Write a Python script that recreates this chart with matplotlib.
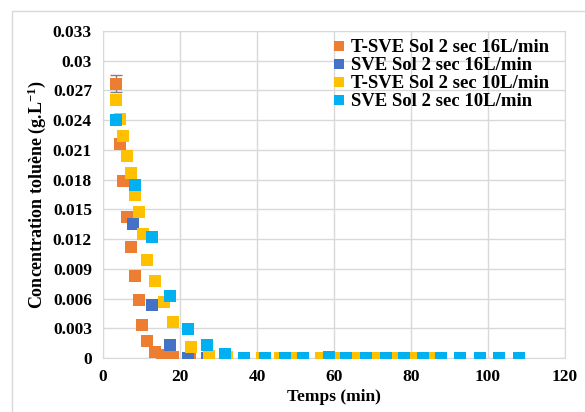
import matplotlib.pyplot as plt
from matplotlib.patches import Rectangle

plt.rcParams['font.family'] = 'Liberation Serif'
plt.rcParams['font.weight'] = 'bold'
plt.rcParams['mathtext.fontset'] = 'custom'
plt.rcParams['mathtext.rm'] = 'Liberation Serif:bold'
plt.rcParams['mathtext.bf'] = 'Liberation Serif:bold'
plt.rcParams['mathtext.default'] = 'bf'

# T-SVE Sol 2 sec 16L/min
t_tsve16 = [3.4, 4.3, 5.3, 6.2, 7.2, 8.3, 9.3, 10.2, 11.4, 13.4, 15.3, 18.3, 22.7, 27.2, 32.0, 36.6, 41.5]
c_tsve16 = [0.0277, 0.0216, 0.0179, 0.0142, 0.0112, 0.0083, 0.0059, 0.0033, 0.0017, 0.0006, 0.0003, 0.0001,
            0.0, 0.0, 0.0, 0.0, 0.0]
err_first = 0.0009

# SVE Sol 2 sec 16L/min
t_sve16 = [3.3, 7.9, 12.7, 17.4, 22.2, 27.0, 31.8, 36.6, 41.5, 58.7]
c_sve16 = [0.0240, 0.0135, 0.0053, 0.0013, 0.0, 0.0, 0.0, 0.0, 0.0, 0.0]

# T-SVE Sol 2 sec 10L/min
t_tsve10 = [3.3, 4.4, 5.3, 6.3, 7.3, 8.3, 9.4, 10.3, 11.4, 13.4, 15.9, 18.3, 22.9, 27.6, 32.2, 41.3, 46.0,
            50.0, 56.5, 61.3, 65.6, 70.8, 75.6, 80.4, 84.7]
c_tsve10 = [0.0260, 0.0241, 0.0224, 0.0204, 0.0187, 0.0165, 0.0147, 0.0125, 0.0099, 0.0078, 0.0057, 0.0036,
            0.0011, 0.0002, 0.0001, 0.0, 0.0, 0.0, 0.0, 0.0, 0.0, 0.0, 0.0, 0.0, 0.0]

# SVE Sol 2 sec 10L/min
t_sve10 = [3.3, 8.2, 12.7, 17.4, 22.2, 27.0, 31.8, 36.5, 42.2, 47.4, 52.0, 58.7, 63.0, 68.2, 73.4, 78.2,
           83.0, 87.8, 92.7, 97.9, 102.9, 108.0]
c_sve10 = [0.0240, 0.0175, 0.0122, 0.0063, 0.0029, 0.0013, 0.0004, 0.0, 0.0, 0.0, 0.0, 0.00013, 0.0, 0.0,
           0.0, 0.0, 0.0, 0.0, 0.0, 0.0, 0.0, 0.0]

yticks = [0, 0.003, 0.006, 0.009, 0.012, 0.015, 0.018, 0.021, 0.024, 0.027, 0.03, 0.033]
ytick_labels = ['0', '0.003', '0.006', '0.009', '0.012', '0.015', '0.018', '0.021', '0.024', '0.027', '0.03', '0.033']

fig = plt.figure(figsize=(5.85, 4.12), dpi=100)
fig.patches.append(Rectangle((12 / 585, -0.1), 1.2, 1.0 - 11 / 412 + 0.1, transform=fig.transFigure,
                             fill=False, edgecolor='#d9d9d9', linewidth=1))
ax = fig.add_axes([103 / 585, 54 / 412, 462 / 585, 327 / 412])

ax.errorbar([t_tsve16[0]], [c_tsve16[0]], yerr=err_first, fmt='none', ecolor='#808080',
            elinewidth=1, capsize=4, zorder=2)
ms = 8.5
ax.plot(t_tsve16, c_tsve16, 's', color='#ED7D31', ms=ms, mew=0, label='T-SVE Sol 2 sec 16L/min', zorder=3)
ax.plot(t_sve16, c_sve16, 's', color='#4472C4', ms=ms, mew=0, label='SVE Sol 2 sec 16L/min', zorder=3)
ax.plot(t_tsve10, c_tsve10, 's', color='#FFC000', ms=ms, mew=0, label='T-SVE Sol 2 sec 10L/min', zorder=3)
ax.plot(t_sve10, c_sve10, 's', color='#00B0F0', ms=ms, mew=0, label='SVE Sol 2 sec 10L/min', zorder=3)

ax.set_xlim(0, 120)
ax.set_ylim(0, 0.033)
ax.set_xticks(range(0, 121, 20))
ax.set_yticks(yticks)
ax.set_yticklabels(ytick_labels)
ax.tick_params(length=0, labelsize=12.5, pad=8)
ax.grid(True, color='#d9d9d9', linewidth=1)
ax.set_axisbelow(True)
for s in ax.spines.values():
    s.set_color('#d9d9d9')

ax.set_xlabel('Temps (min)', fontsize=12.5, fontweight='bold', labelpad=3)
ax.set_ylabel('Concentration toluène (g.L$^{-1}$)', fontsize=13, fontweight='bold', labelpad=3)

leg = ax.legend(loc='upper left', bbox_to_anchor=(0.475, 1.01), frameon=False, fontsize=13.5,
                handlelength=0.6, handletextpad=0.3, labelspacing=0.05, borderaxespad=0.2,
                markerscale=0.9)

fig.savefig('out.png', dpi=100)
